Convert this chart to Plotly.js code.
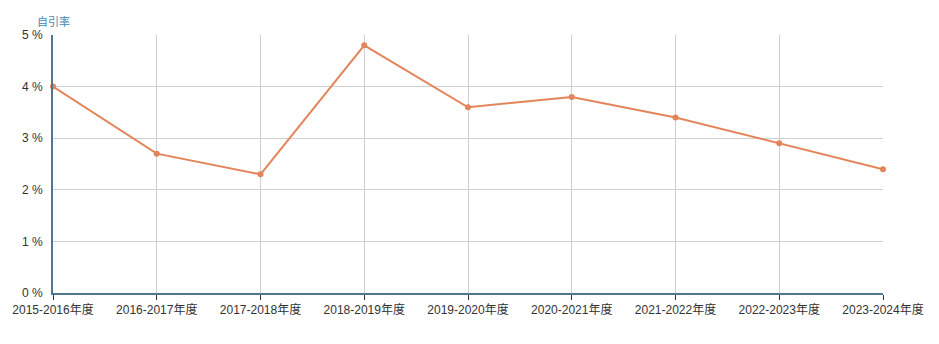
<!DOCTYPE html>
<html>
<head>
<meta charset="utf-8">
<script src="https://cdn.plot.ly/plotly-3.0.1.min.js"></script>
<style>html,body{margin:0;padding:0;background:#fff;}#chart{width:939px;height:344px;}</style>
</head>
<body>
<div id="chart"></div>
<script>
const categories = ["2015-2016年度","2016-2017年度","2017-2018年度","2018-2019年度","2019-2020年度","2020-2021年度","2021-2022年度","2022-2023年度","2023-2024年度"];
const selfCitationRate = [4.0, 2.7, 2.3, 4.8, 3.6, 3.8, 3.4, 2.9, 2.4];
const yTickValues = [0, 1, 2, 3, 4, 5];
const yTickLabels = ["0 %", "1 %", "2 %", "3 %", "4 %", "5 %"];
const yAxisName = "自引率";

const fontFamily = "Liberation Sans, Arial, Noto Sans CJK SC, sans-serif";

const trace = {
  x: categories,
  y: selfCitationRate,
  type: "scatter",
  mode: "lines+markers",
  line: {color: "#e3855a", width: 2},
  marker: {color: "#e3855a", size: 6},
  hoverinfo: "x+y",
  cliponaxis: false
};

const layout = {
  width: 939,
  height: 344,
  margin: {l: 53, r: 56, t: 35, b: 51},
  paper_bgcolor: "#ffffff",
  plot_bgcolor: "#ffffff",
  showlegend: false,
  font: {family: fontFamily, size: 12, color: "#333"},
  xaxis: {
    type: "category",
    range: [0, categories.length - 1],
    showgrid: true,
    gridcolor: "#d0d0d0",
    gridwidth: 1,
    showline: true,
    linecolor: "#52768f",
    linewidth: 2,
    ticks: "outside",
    ticklen: 5,
    tickcolor: "#333",
    tickwidth: 1,
    tickfont: {family: fontFamily, size: 12, color: "#333"},
    zeroline: false,
    fixedrange: true
  },
  yaxis: {
    range: [0, 5],
    tickvals: yTickValues,
    ticktext: yTickLabels,
    showgrid: true,
    gridcolor: "#d0d0d0",
    gridwidth: 1,
    showline: true,
    linecolor: "#52768f",
    linewidth: 2,
    ticks: "",
    ticklabelstandoff: 6,
    tickfont: {family: fontFamily, size: 12, color: "#333"},
    zeroline: false,
    fixedrange: true
  },
  annotations: [{
    text: yAxisName,
    xref: "paper", yref: "paper",
    x: 0, y: 1,
    xanchor: "left", yanchor: "bottom",
    xshift: -18, yshift: 5,
    showarrow: false,
    font: {family: fontFamily, size: 11, color: "#4a86ad"}
  }]
};

Plotly.newPlot("chart", [trace], layout, {displayModeBar: false, staticPlot: true});
</script>
</body>
</html>
